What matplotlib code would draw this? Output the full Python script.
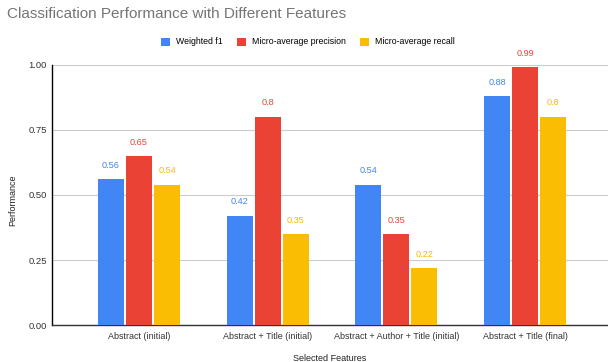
import matplotlib
import matplotlib.pyplot as plt
import numpy as np

matplotlib.rcParams['font.family'] = ['Liberation Sans', 'DejaVu Sans']

categories = ['Abstract (initial)', 'Abstract + Title (initial)',
              'Abstract + Author + Title (initial)', 'Abstract + Title (final)']
series_names = ['Weighted f1', 'Micro-average precision', 'Micro-average recall']
weighted_f1 = [0.56, 0.42, 0.54, 0.88]
micro_precision = [0.65, 0.8, 0.35, 0.99]
micro_recall = [0.54, 0.35, 0.22, 0.8]
value_labels = [['0.56', '0.42', '0.54', '0.88'],
                ['0.65', '0.8', '0.35', '0.99'],
                ['0.54', '0.35', '0.22', '0.8']]
yticks = [0.0, 0.25, 0.5, 0.75, 1.0]
colors = ['#4285F4', '#EA4335', '#FBBC04']

fig = plt.figure(figsize=(6.08, 3.62), dpi=100)
ax = fig.add_axes([52/608, 1 - 325.3/362, 1 - 52/608, (325.3 - 64.7)/362])

x = np.arange(len(categories))
width = 0.202
step = 0.2176
for i, (vals, name) in enumerate(zip([weighted_f1, micro_precision, micro_recall], series_names)):
    pos = x + (i - 1) * step
    ax.bar(pos, vals, width, color=colors[i], label=name, zorder=3)
    for p, v, t in zip(pos, vals, value_labels[i]):
        ax.annotate(t, (p, v), xytext=(0, 10), textcoords='offset points',
                    ha='center', va='center', fontsize=6.6, color=colors[i])

ax.set_xlim(-0.676, 3.644)
ax.set_ylim(0, 1)
ax.set_yticks(yticks)
ax.set_yticklabels(['%.2f' % t for t in yticks])
ax.set_xticks(x)
ax.set_xticklabels(categories)
ax.tick_params(length=0, labelsize=6.5, colors='#333333', pad=5)
ax.tick_params(axis='y', labelsize=6.8, pad=3.5)
ax.grid(axis='y', color='#cccccc', linewidth=0.8, zorder=0)
for s in ['top', 'right']:
    ax.spines[s].set_visible(False)
ax.spines['left'].set_color('#000000')
ax.spines['left'].set_linewidth(1.0)
ax.spines['bottom'].set_color('#333333')
ax.spines['bottom'].set_linewidth(1.0)

ax.set_xlabel('Selected Features', fontsize=6.5, color='#222222', labelpad=9)
ax.set_ylabel('Performance', fontsize=6.5, color='#222222')
ax.yaxis.set_label_coords(-0.062, 0.48)

fig.text(7/608, 1 - 14/362, 'Classification Performance with Different Features',
         fontsize=11, color='#757575', ha='left', va='center')

fig.legend(loc='center', bbox_to_anchor=(308/608, 1 - 42/362), ncol=3, frameon=False,
           fontsize=6.3, handlelength=1.03, handleheight=1.03, handletextpad=0.69,
           columnspacing=1.6)

fig.savefig('out.png', dpi=100)
